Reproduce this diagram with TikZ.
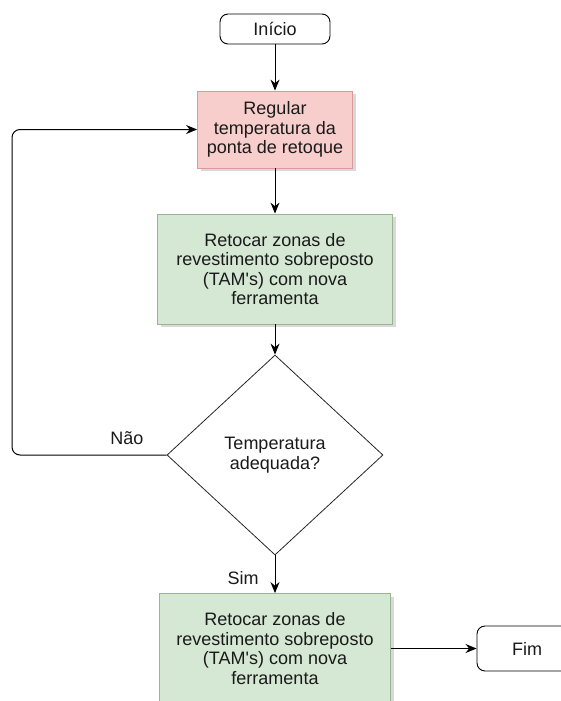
\documentclass[tikz,border=0pt]{standalone}
\usepackage{fontspec}
\setmainfont{Liberation Sans}
\usetikzlibrary{shapes.geometric,arrows.meta,shadows}
\definecolor{pinkfill}{HTML}{F8CECC}
\definecolor{pinkline}{HTML}{D99A9A}
\definecolor{greenfill}{HTML}{D5E8D4}
\definecolor{greenline}{HTML}{9AB48F}
\definecolor{txtcol}{HTML}{1A1A1A}
\begin{document}
\begin{tikzpicture}[x=1pt,y=-1pt,
  txt/.style={font=\fontsize{18}{19.5}\selectfont, align=center, text=txtcol},
  term/.style={txt, draw=black, rounded corners=8pt, fill=white, line width=0.9pt, inner sep=0pt},
  procbox/.style={txt, inner sep=0pt, line width=0.8pt, drop shadow={shadow xshift=3pt, shadow yshift=-3pt, opacity=0.3}},
  arr/.style={-{Stealth[length=11pt,width=9pt]}, line width=1pt}
]
\useasboundingbox (0,0) rectangle (561,701);
\clip (0,0) rectangle (561,701);

\node[term, minimum width=110pt, minimum height=30pt] (ini) at (275,29) {Início};
\node[procbox, fill=pinkfill, draw=pinkline, minimum width=155pt, minimum height=77pt] (reg) at (275,129.5) {Regular\\temperatura da\\ponta de retoque};
\node[procbox, fill=greenfill, draw=greenline, minimum width=235pt, minimum height=110pt] (ret1) at (275,269) {Retocar zonas de\\revestimento sobreposto\\(TAM\textquotesingle s) com nova\\ferramenta};
\node[diamond, draw=black!85, line width=0.8pt, minimum width=216pt, minimum height=200pt, inner sep=0pt, txt, fill=white] (dec) at (275,455) {Temperatura\\adequada?};
\node[procbox, fill=greenfill, draw=greenline, minimum width=231pt, minimum height=110pt] (ret2) at (275,648.5) {Retocar zonas de\\revestimento sobreposto\\(TAM\textquotesingle s) com nova\\ferramenta};
\node[term, minimum width=100pt, minimum height=45pt] (fim) at (527,648.5) {Fim};

\node[txt] (nao) at (127,438) {Não};
\node[txt] (sim) at (243,578) {Sim};

\draw[arr] (ini) -- (reg);
\draw[arr] (reg) -- (ret1);
\draw[arr] (ret1) -- (dec);
\draw[arr] (dec) -- (ret2);
\draw[arr] (ret2) -- (fim);
\coordinate (lx) at (12,0);
\draw[arr, rounded corners=8pt] (dec.west) -- (dec.west -| lx) -- (reg.west -| lx) -- (reg.west);
\end{tikzpicture}
\end{document}
